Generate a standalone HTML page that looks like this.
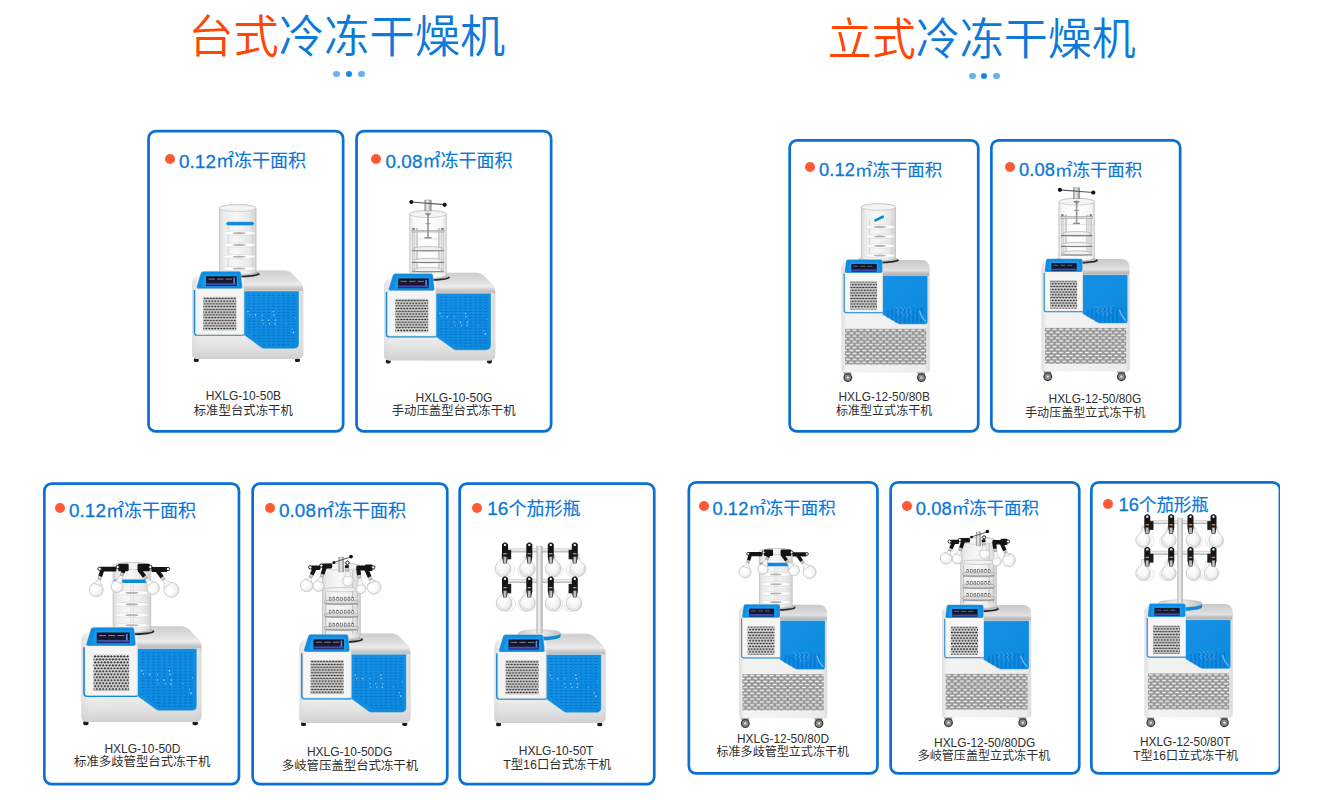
<!DOCTYPE html>
<html lang="zh-CN">
<head>
<meta charset="utf-8">
<title>冷冻干燥机</title>
<style>
*{margin:0;padding:0;box-sizing:border-box}
html,body{width:1324px;height:800px;background:#fff;overflow:hidden}
body{font-family:"Liberation Sans","Noto Sans CJK SC",sans-serif;color:#2e2e2e}
.page{position:relative;width:1280px;height:800px;overflow:hidden;background:#fff}
.title{position:absolute;white-space:nowrap;font-weight:350;color:#0b7ad8}
.title b{font-weight:350;color:#ff4605}
.dots{position:absolute;height:8px}
.dots i{position:absolute;top:0;width:6.8px;height:6.8px;border-radius:50%;background:#66b2f3}
.dots i.m{background:#1a86e6}
.card{position:absolute;border-radius:8.5px}
.dot{position:absolute;width:10px;height:10px;border-radius:50%;background:#ff5a36}
h1,h3,p{font-weight:400;margin:0}
.label{position:absolute;white-space:nowrap;color:#0b78d8;font-weight:400;-webkit-text-stroke:.18px #0b78d8}
.label .n{position:relative;top:.3px;letter-spacing:.1px;-webkit-text-stroke:.3px #0b78d8}
.model,.name{position:absolute;white-space:nowrap;color:#2e2e2e}
svg.art{position:absolute;left:0;top:0;width:1280px;height:800px;overflow:visible}
</style>
</head>
<body>
<div class="page">

<h1 class="title" style="left:188.2px;top:7.7px;font-size:45.3px;line-height:60px;"><b>台式</b>冷冻干燥机</h1>
<div class="dots" style="left:333.2px;top:70.6px"><i style="left:0"></i><i class="m" style="left:12.4px"></i><i style="left:25.2px"></i></div>
<h1 class="title" style="left:827.7px;top:10.35px;font-size:44px;line-height:60px;"><b>立式</b>冷冻干燥机</h1>
<div class="dots" style="left:968.8px;top:72.6px"><i style="left:0"></i><i class="m" style="left:11.8px"></i><i style="left:24.6px"></i></div>
<svg class="art" viewBox="0 0 1280 800">

<defs>
<linearGradient id="gGlass" x1="0" x2="1" y1="0" y2="0"><stop offset="0" stop-color="#d9d9d9"/><stop offset=".12" stop-color="#ececec"/><stop offset=".45" stop-color="#f7f7f7"/><stop offset=".8" stop-color="#e9e9e9"/><stop offset="1" stop-color="#d4d4d4"/></linearGradient>
<linearGradient id="gGlass2" x1="0" x2="1" y1="0" y2="0"><stop offset="0" stop-color="#e4e4e4"/><stop offset=".1" stop-color="#f8f8f8"/><stop offset=".5" stop-color="#ffffff"/><stop offset=".9" stop-color="#f6f6f6"/><stop offset="1" stop-color="#e0e0e0"/></linearGradient>
<linearGradient id="gMetal" x1="0" x2="1" y1="0" y2="0"><stop offset="0" stop-color="#8f8f8f"/><stop offset=".4" stop-color="#f2f2f2"/><stop offset="1" stop-color="#8a8a8a"/></linearGradient>
<linearGradient id="gPost" x1="0" x2="1" y1="0" y2="0"><stop offset="0" stop-color="#b9b9b9"/><stop offset=".45" stop-color="#f4f4f4"/><stop offset="1" stop-color="#a9a9a9"/></linearGradient>
<linearGradient id="gArm" x1="0" x2="0" y1="0" y2="1"><stop offset="0" stop-color="#d9d9d9"/><stop offset=".4" stop-color="#f2f2f2"/><stop offset="1" stop-color="#a9a9a9"/></linearGradient>
<linearGradient id="gPlate" x1="0" x2="1" y1="0" y2="0"><stop offset="0" stop-color="#c9c9c9"/><stop offset=".5" stop-color="#f3f3f3"/><stop offset="1" stop-color="#bdbdbd"/></linearGradient>
<radialGradient id="gFlask" cx=".42" cy=".45" r=".65"><stop offset="0" stop-color="#ffffff"/><stop offset=".65" stop-color="#f4f4f4"/><stop offset="1" stop-color="#d3d3d3"/></radialGradient>
<linearGradient id="gBody" x1="0" x2="1" y1="0" y2="0"><stop offset="0" stop-color="#dedede"/><stop offset=".06" stop-color="#f3f3f3"/><stop offset=".5" stop-color="#f1f1f1"/><stop offset=".95" stop-color="#ebebeb"/><stop offset="1" stop-color="#d8d8d8"/></linearGradient>
<linearGradient id="gBodyLow" x1="0" x2="0" y1="0" y2="1"><stop offset="0" stop-color="#e9e9e9" stop-opacity=".3"/><stop offset="1" stop-color="#d0d0d0" stop-opacity="1"/></linearGradient>
<linearGradient id="gTop" x1="0" x2="0" y1="0" y2="1"><stop offset="0" stop-color="#cecece"/><stop offset=".4" stop-color="#dcdcdc"/><stop offset=".68" stop-color="#ececec"/><stop offset=".82" stop-color="#cfcfcf"/><stop offset="1" stop-color="#b6b6b6"/></linearGradient>
<linearGradient id="gTopF" x1="0" x2="0" y1="0" y2="1"><stop offset="0" stop-color="#c9c9c9"/><stop offset=".4" stop-color="#d6d6d6"/><stop offset=".66" stop-color="#e2e2e2"/><stop offset=".8" stop-color="#c6c6c6"/><stop offset="1" stop-color="#adadad"/></linearGradient>
<linearGradient id="gBlue" x1="0" x2="1" y1="0" y2="1"><stop offset="0" stop-color="#1592e5"/><stop offset="1" stop-color="#0c8adc"/></linearGradient>
<linearGradient id="gScreen" x1="0" x2="0" y1="0" y2="1"><stop offset="0" stop-color="#0e0e1c"/><stop offset=".7" stop-color="#1a1a34"/><stop offset=".78" stop-color="#4b56c9"/><stop offset="1" stop-color="#2c3490"/></linearGradient>
<pattern id="pVent" width="3" height="5.5" patternUnits="userSpaceOnUse" x="11.3" y="26.5"><rect width="3" height="5.5" fill="#f7f7f7"/><path id="hx" d="M.25,1.4 L.85,.45 H2.15 L2.75,1.4 L2.15,2.35 H.85 Z" fill="#262626"/><use href="#hx" x="1.5" y="2.75"/><use href="#hx" x="-1.5" y="2.75"/></pattern>
<pattern id="pSlots" width="4.95" height="2.9" patternUnits="userSpaceOnUse"><rect x=".85" y=".9" width="3.25" height="1.1" rx=".35" fill="#0468cd" opacity=".8"/></pattern>
<pattern id="pMesh" width="6.5" height="5.8" patternUnits="userSpaceOnUse" x="3.6" y="69.2"><rect width="6.5" height="5.8" fill="#939393"/><rect x="1" y=".7" width="4.1" height="1.5" rx=".6" fill="#f6f6f6"/><rect x="4.25" y="3.6" width="4.1" height="1.5" rx=".6" fill="#f6f6f6"/><rect x="-2.25" y="3.6" width="4.1" height="1.5" rx=".6" fill="#f6f6f6"/></pattern>

<!-- bench-top body: 111.3 x 88.5 (+feet) -->
<g id="benchBody">
<rect x="1.8" y="87.6" width="4.9" height="4" rx="1.5" fill="#1c1c1c"/><rect x="103" y="87.6" width="4.9" height="4" rx="1.5" fill="#1c1c1c"/>
<path d="M0,14 Q0,6 8,5 L52,2 L52,0 L92,0 Q97,0 100.5,3.5 L108.5,12 Q111.3,15.5 111.3,21 L111.3,82 Q111.3,88.5 105,88.5 L6,88.5 Q0,88.5 0,82 Z" fill="url(#gBody)"/>
<rect x="0" y="60" width="111.3" height="28.5" rx="5" fill="url(#gBodyLow)"/>
<path d="M51.8,0 L92,0 Q97,0 100.5,3.5 L108.5,12 Q111.3,15.5 111.3,20.6 L51.8,20.6 Z" fill="url(#gTop)"/>
<path d="M51.8,20.4 H110" stroke="#f3dcc9" stroke-width=".7"/>
<path d="M51.8,20.6 L107,20.6 L107,73 Q107,78.2 102,78.2 L71.5,78.2 L69.6,77.4 L51.8,64.6 Z" fill="url(#gBlue)" stroke="#e9e2da" stroke-width=".4"/>
<path d="M54.6,23 H104.5 V71 Q104.5,75.5 100,75.5 H72.5 L54.6,62.6 Z" fill="url(#pSlots)"/>
<g fill="#fff" opacity=".6"><circle cx="56" cy="41.2" r=".8"/><circle cx="57.5" cy="44.5" r=".7"/><circle cx="63.3" cy="44.6" r=".8"/><circle cx="70.5" cy="44.7" r=".6"/><circle cx="81.5" cy="41.2" r=".8"/><circle cx="82" cy="44.5" r=".8"/><circle cx="70.7" cy="49.8" r=".7"/><circle cx="76.5" cy="49.8" r=".8"/><circle cx="83.3" cy="49.8" r=".8"/><circle cx="71.3" cy="53.3" r=".6"/><circle cx="77.5" cy="53.3" r=".7"/><circle cx="83" cy="53.3" r=".8"/><circle cx="101.5" cy="62" r=".9"/><circle cx="100.2" cy="58.6" r=".6"/><circle cx="94" cy="53" r=".5"/><circle cx="103" cy="47.5" r=".5"/></g>
</g>
<g id="benchPanel">
<path d="M2.5,19.5 V62 Q2.5,64.6 5,64.6 H51.8" fill="none" stroke="#0d8add" stroke-width="1.5"/>
<rect x="3.8" y="17" width="48" height="46.9" rx="1.2" fill="#f5f5f5" stroke="#f1d8c5" stroke-width=".6"/>
<rect x="11.3" y="26.3" width="33" height="33.7" fill="url(#pVent)"/>
<path d="M11.5,.8 H47 Q48.8,.8 49,2.6 L50.4,16.2 Q50.6,18.2 48.6,18.2 H6.4 Q4.2,18.2 4.6,16.2 L8.8,2.6 Q9.4,.8 11.5,.8 Z" fill="#0d8de1" stroke="#f3dcc9" stroke-width=".4"/>
<path d="M12.6,3.6 H45.6 L46.7,16 H9.2 Z" fill="#1c9df0" opacity=".75"/>
<rect x="14.6" y="6.1" width="29.8" height="9.2" fill="url(#gScreen)" stroke="#0a0a18" stroke-width=".5"/>
<path d="M16.5,8.6 h6.5 M25,8.6 h6.5 M33.5,8.6 h6.5" stroke="#d8d8e8" stroke-width=".7" opacity=".8"/>
<rect x="41.3" y="7" width="1.6" height="6" fill="#5aa0f0" opacity=".9"/>
</g>

<!-- floor body: 88.3 x 112.8 (+casters) -->
<g id="floorBody">
<g id="caster"><path d="M2.2,112.5 h7.4 v2.2 l-1.4,1.6 h-4.2 Z" fill="#9a9a9a" stroke="#555" stroke-width=".4"/><circle cx="6.4" cy="118" r="3.8" fill="#8e8e8e" stroke="#3a3a3a" stroke-width="1.3"/><circle cx="6.4" cy="118" r="1.7" fill="#dadada" stroke="#555" stroke-width=".5"/></g>
<use href="#caster" x="73.6"/>
<path d="M0,8 Q0,3.5 5,3 L41,1.5 V.4 H80 Q88.3,.4 88.3,9 L88.3,110 Q88.3,112.8 85.5,112.8 H2.8 Q0,112.8 0,110 Z" fill="url(#gBody)"/>
<path d="M41.1,.4 H80 Q87.6,.4 87.8,9 V16 H41.1 Z" fill="url(#gTopF)"/>
<path d="M41.1,15.8 H87" stroke="#f3dcc9" stroke-width=".6"/>
<path d="M41.1,16 H86.2 V62 Q86.2,64.6 83.7,64.6 H58 L56.6,64.1 L41.1,55 Z" fill="url(#gBlue)" stroke="#e9e2da" stroke-width=".3"/>
<g fill="#0768cc" opacity=".55"><rect x="45.6" y="51" width="1.8" height="7"/><rect x="49.7" y="50" width="1.8" height="10.5"/><rect x="53.9" y="49" width="1.8" height="14"/><rect x="58.1" y="48.5" width="1.8" height="15.2"/><rect x="62.3" y="48.5" width="1.8" height="15.2"/><rect x="66.5" y="48.5" width="1.8" height="15.2"/><rect x="70.7" y="48.5" width="1.8" height="15.2"/><rect x="74.9" y="48.5" width="1.8" height="15.2"/><rect x="79.1" y="48.5" width="1.8" height="15.2"/></g>
<g stroke="#6fbdf3" stroke-width=".9" opacity=".9" stroke-dasharray="1.1 .9" fill="none"><path d="M54.2,47.6 l3.5,2.6 l-2.6,2.4 l3.4,2.6 M58.6,47.6 l3.5,2.6 l-2.6,2.4 l3.4,2.6 l-2,2 M63,47.6 l3.5,2.6 l-2.6,2.4 l3.4,2.6 l-2,2 M67.4,47.6 l3.5,2.6 l-2.6,2.4 l3.4,2.6"/></g>
<path d="M78,51 L80.6,57.5 L84.4,62" stroke="#7cc3f4" stroke-width="1.3" fill="none" opacity=".9"/>
<rect x="3.6" y="69.2" width="81.2" height="35.8" fill="url(#pMesh)"/>
</g>
<g id="floorPanel">
<path d="M2.9,14 V51 Q2.9,53 4.9,53 H41.1" fill="none" stroke="#0d8add" stroke-width="1.3"/>
<rect x="3.6" y="12.5" width="37.5" height="39.8" rx="1" fill="#f6f6f6" stroke="#f1d8c5" stroke-width=".5"/>
<rect x="8.7" y="21.9" width="26.9" height="28" fill="url(#pVent)"/>
<path d="M6.4,0 H39.4 Q41.1,0 41.1,1.7 V11.6 Q41.1,13.3 39.4,13.3 H4.6 Q3,13.3 3.3,11.6 L4.6,1.7 Q4.9,0 6.4,0 Z" fill="#0d8de1" stroke="#f3dcc9" stroke-width=".3"/>
<path d="M8.2,2.4 H37.6 L38.4,11.6 H6.6 Z" fill="#1c9df0" opacity=".7"/>
<rect x="10.4" y="4.6" width="24.6" height="7.2" fill="url(#gScreen)" stroke="#0a0a18" stroke-width=".4"/>
<path d="M12,6.6 h5 M19,6.6 h5 M26,6.6 h5" stroke="#d8d8e8" stroke-width=".6" opacity=".7"/>
</g>
</defs>

<rect x="148.55" y="131.15" width="194.6" height="300.3" rx="7.25" fill="none" stroke="#0a70d1" stroke-width="2.7"/>
<rect x="356.55" y="131.15" width="194.6" height="300.3" rx="7.25" fill="none" stroke="#0a70d1" stroke-width="2.7"/>
<rect x="44.35" y="483.65" width="194.6" height="300.5" rx="7.25" fill="none" stroke="#0a70d1" stroke-width="2.7"/>
<rect x="252.65" y="483.65" width="194.6" height="300.5" rx="7.25" fill="none" stroke="#0a70d1" stroke-width="2.7"/>
<rect x="459.65" y="483.65" width="194.6" height="300.5" rx="7.25" fill="none" stroke="#0a70d1" stroke-width="2.7"/>
<rect x="789.65" y="140.35" width="188.6" height="291.1" rx="7.25" fill="none" stroke="#0a70d1" stroke-width="2.7"/>
<rect x="991.35" y="140.35" width="188.8" height="291.1" rx="7.25" fill="none" stroke="#0a70d1" stroke-width="2.7"/>
<rect x="688.85" y="482.35" width="188.6" height="291.1" rx="7.25" fill="none" stroke="#0a70d1" stroke-width="2.7"/>
<rect x="890.65" y="482.35" width="188.6" height="291.1" rx="7.25" fill="none" stroke="#0a70d1" stroke-width="2.7"/>
<rect x="1091.35" y="482.35" width="188.6" height="291.1" rx="7.25" fill="none" stroke="#0a70d1" stroke-width="2.7"/>
<g><g transform="translate(192,270.5) scale(1,1)"><use href="#benchBody"/></g><ellipse cx="237.7" cy="274" rx="21.96" ry="3.51" fill="#262626"/><ellipse cx="237.7" cy="273.1" rx="20.42" ry="2.64" fill="#bdbdbd"/><path d="M219.4,208.08 L219.4,271.6 A18.3,3.48 0 0 0 256,271.6 L256,208.08 A18.3,3.48 0 0 0 219.4,208.08 Z" fill="url(#gGlass)" stroke="#bcbcbc" stroke-width=".8"/><ellipse cx="237.7" cy="208.08" rx="18.3" ry="3.48" fill="#f4f4f4" stroke="#c2c2c2" stroke-width=".7"/><path d="M228.18,225 V269.6 M252.34,225 V269.6" stroke="#cdcdcd" stroke-width=".8" fill="none"/><ellipse cx="239.16" cy="233.16" rx="16.1" ry="2.3" fill="#fdfdfd" stroke="#d2d2d2" stroke-width=".5"/><ellipse cx="239.16" cy="233.16" rx="6.44" ry="1.1" fill="#b4b4b4"/><ellipse cx="239.16" cy="244.95" rx="16.1" ry="2.3" fill="#fdfdfd" stroke="#d2d2d2" stroke-width=".5"/><ellipse cx="239.16" cy="244.95" rx="6.44" ry="1.1" fill="#b4b4b4"/><ellipse cx="239.16" cy="256.73" rx="16.1" ry="2.3" fill="#fdfdfd" stroke="#d2d2d2" stroke-width=".5"/><ellipse cx="239.16" cy="256.73" rx="6.44" ry="1.1" fill="#b4b4b4"/><ellipse cx="239.16" cy="268.52" rx="16.1" ry="2.3" fill="#fdfdfd" stroke="#d2d2d2" stroke-width=".5"/><ellipse cx="239.16" cy="268.52" rx="6.44" ry="1.1" fill="#b4b4b4"/><rect x="226.1" y="221.67" width="28.11" height="3.9" rx="1.95" fill="#0d8add" stroke="#f6e6d8" stroke-width=".4"/><g transform="translate(192,270.5) scale(1,1)"><use href="#benchPanel"/></g></g>
<g><g transform="translate(384,272.8) scale(1,0.99)"><use href="#benchBody"/></g><ellipse cx="428" cy="277.6" rx="21.9" ry="3.5" fill="#262626"/><ellipse cx="428" cy="276.7" rx="20.37" ry="2.63" fill="#bdbdbd"/><path d="M409.75,214.07 L409.75,275 A18.25,3.47 0 0 0 446.25,275 L446.25,214.07 A18.25,3.47 0 0 0 409.75,214.07 Z" fill="url(#gGlass2)" stroke="#bcbcbc" stroke-width=".8"/><ellipse cx="428" cy="214.07" rx="18.25" ry="3.47" fill="#f4f4f4" stroke="#c2c2c2" stroke-width=".7"/><rect x="412.65" y="228.72" width="1.5" height="41.78" fill="#e4e4e4" stroke="#a6a6a6" stroke-width=".45"/><rect x="416.05" y="228.72" width="1.5" height="41.78" fill="#e4e4e4" stroke="#a6a6a6" stroke-width=".45"/><rect x="438.45" y="228.72" width="1.5" height="41.78" fill="#e4e4e4" stroke="#a6a6a6" stroke-width=".45"/><rect x="441.85" y="228.72" width="1.5" height="41.78" fill="#e4e4e4" stroke="#a6a6a6" stroke-width=".45"/><rect x="411.8" y="230.22" width="32.4" height="1.8" fill="#d9d9d9" stroke="#8f8f8f" stroke-width=".5"/><rect x="412.4" y="227.82" width="2" height="2" fill="#777"/><rect x="441.6" y="227.82" width="2" height="2" fill="#777"/><path d="M409.75,238.72 H446.25" stroke="#c8c8c8" stroke-width=".5"/><ellipse cx="428" cy="248.86" rx="14.96" ry="2.3" fill="#f0f0f0" stroke="#a2a2a2" stroke-width=".6"/><path d="M411.8,250.76 H444.2" stroke="#7d7d7d" stroke-width="1.1"/><ellipse cx="428" cy="260.63" rx="14.96" ry="2.3" fill="#f0f0f0" stroke="#a2a2a2" stroke-width=".6"/><path d="M411.8,262.53 H444.2" stroke="#7d7d7d" stroke-width="1.1"/><ellipse cx="428" cy="269.79" rx="14.96" ry="2.3" fill="#f0f0f0" stroke="#a2a2a2" stroke-width=".6"/><path d="M411.8,271.69 H444.2" stroke="#7d7d7d" stroke-width="1.1"/><path d="M428,212.6 V237.41" stroke="#9a9a9a" stroke-width="1.7"/><path d="M424.5,213.2 h7 l-2.2,2.4 h-2.6 Z" fill="#8e8e8e"/><path d="M424.5,237.74 h7" stroke="#8a8a8a" stroke-width="1.4"/><path d="M425.5,223.68 h5" stroke="#9a9a9a" stroke-width="1"/><rect x="424.8" y="200" width="6.4" height="11" fill="url(#gMetal)" stroke="#8a8a8a" stroke-width=".5"/><path d="M411.5,202 L444.5,204.7" stroke="#5a5a5a" stroke-width="1.2"/><circle cx="411.3" cy="202" r="2.1" fill="#111"/><circle cx="444.7" cy="204.8" r="2.1" fill="#111"/><g transform="translate(384,272.8) scale(1,0.99)"><use href="#benchPanel"/></g></g>
<g><g transform="translate(81.3,626.3) scale(1.08,1.08)"><use href="#benchBody"/></g><ellipse cx="131.9" cy="631.6" rx="22.5" ry="3.6" fill="#262626"/><ellipse cx="131.9" cy="630.7" rx="20.93" ry="2.7" fill="#bdbdbd"/><path d="M113.15,566.06 L113.15,629 A18.75,3.56 0 0 0 150.65,629 L150.65,566.06 A18.75,3.56 0 0 0 113.15,566.06 Z" fill="url(#gGlass)" stroke="#bcbcbc" stroke-width=".8"/><ellipse cx="131.9" cy="566.06" rx="18.75" ry="3.56" fill="#f4f4f4" stroke="#c2c2c2" stroke-width=".7"/><rect x="130.4" y="581.4" width="3" height="47.25" fill="#efefef" stroke="#d2d2d2" stroke-width=".4"/><ellipse cx="131.9" cy="592.88" rx="16.5" ry="2.3" fill="#fdfdfd" stroke="#d2d2d2" stroke-width=".5"/><ellipse cx="131.9" cy="592.88" rx="6.6" ry="1.1" fill="#b4b4b4"/><ellipse cx="131.9" cy="604.35" rx="16.5" ry="2.3" fill="#fdfdfd" stroke="#d2d2d2" stroke-width=".5"/><ellipse cx="131.9" cy="604.35" rx="6.6" ry="1.1" fill="#b4b4b4"/><ellipse cx="131.9" cy="615.15" rx="16.5" ry="2.3" fill="#fdfdfd" stroke="#d2d2d2" stroke-width=".5"/><ellipse cx="131.9" cy="615.15" rx="6.6" ry="1.1" fill="#b4b4b4"/><ellipse cx="131.9" cy="625.27" rx="16.5" ry="2.3" fill="#fdfdfd" stroke="#d2d2d2" stroke-width=".5"/><ellipse cx="131.9" cy="625.27" rx="6.6" ry="1.1" fill="#b4b4b4"/><rect x="113.9" y="579.38" width="34.5" height="3.5" rx="1.2" fill="#0d8add"/><g transform="translate(123.9,569.5) rotate(22)"><circle cx="0" cy="18.4" r="6" fill="url(#gFlask)" stroke="#c4c4c4" stroke-width=".7"/><path d="M-1.5,6.5 V8 Q-1.5,9.5 -3.72,13.9 L3.72,13.9 Q1.5,9.5 1.5,8 V6.5 Z" fill="#f7f7f7" stroke="#c4c4c4" stroke-width=".6"/><ellipse cx="-1.5" cy="17.8" rx="2.7" ry="3.3" fill="#fff" opacity=".9"/><rect x="-1.5" y="3.2" width="3" height="3.3" fill="#cfcfcf" stroke="#6e6e6e" stroke-width=".4"/><rect x="-2" y="-1" width="4" height="4.5" rx=".6" fill="#141414"/></g><rect x="118.2" y="563.8" width="10.5" height="7.4" rx="1.1" fill="#141414"/><circle cx="117.6" cy="567.1" r="1.7" fill="#f5f5f5" stroke="#141414" stroke-width="0.9"/><g transform="translate(139.9,570.5) rotate(-37)"><circle cx="0" cy="22" r="6.3" fill="url(#gFlask)" stroke="#c4c4c4" stroke-width=".7"/><path d="M-1.5,10.5 V12 Q-1.5,13.5 -3.91,17.27 L3.91,17.27 Q1.5,13.5 1.5,12 V10.5 Z" fill="#f7f7f7" stroke="#c4c4c4" stroke-width=".6"/><ellipse cx="-1.57" cy="21.37" rx="2.83" ry="3.47" fill="#fff" opacity=".9"/><rect x="-1.5" y="7.2" width="3" height="3.3" fill="#cfcfcf" stroke="#6e6e6e" stroke-width=".4"/><rect x="-2" y="-1" width="4" height="8.5" rx=".6" fill="#141414"/></g><rect x="137.5" y="563.8" width="12.3" height="7.4" rx="1.1" fill="#141414"/><circle cx="150.4" cy="567.1" r="1.7" fill="#f5f5f5" stroke="#141414" stroke-width="0.9"/><g transform="translate(101.9,571) rotate(17)"><circle cx="0" cy="19.6" r="7" fill="url(#gFlask)" stroke="#c4c4c4" stroke-width=".7"/><path d="M-1.5,8.5 V10 Q-1.5,11.5 -4.34,14.35 L4.34,14.35 Q1.5,11.5 1.5,10 V8.5 Z" fill="#f7f7f7" stroke="#c4c4c4" stroke-width=".6"/><ellipse cx="-1.75" cy="18.9" rx="3.15" ry="3.85" fill="#fff" opacity=".9"/><rect x="-1.5" y="5.2" width="3" height="3.3" fill="#cfcfcf" stroke="#6e6e6e" stroke-width=".4"/><rect x="-2" y="-1" width="4" height="6.5" rx=".6" fill="#141414"/></g><rect x="100.3" y="566.8" width="16" height="4.8" rx="1.1" fill="#141414"/><circle cx="99.7" cy="568.8" r="1.7" fill="#f5f5f5" stroke="#141414" stroke-width="0.9"/><g transform="translate(157.9,571.5) rotate(-36)"><circle cx="0" cy="22.8" r="7.5" fill="url(#gFlask)" stroke="#c4c4c4" stroke-width=".7"/><path d="M-1.5,10 V11.5 Q-1.5,13 -4.65,17.18 L4.65,17.18 Q1.5,13 1.5,11.5 V10 Z" fill="#f7f7f7" stroke="#c4c4c4" stroke-width=".6"/><ellipse cx="-1.88" cy="22.05" rx="3.38" ry="4.12" fill="#fff" opacity=".9"/><rect x="-1.5" y="6.7" width="3" height="3.3" fill="#cfcfcf" stroke="#6e6e6e" stroke-width=".4"/><rect x="-2" y="-1" width="4" height="8" rx=".6" fill="#141414"/></g><rect x="151.3" y="566.9" width="16.2" height="5" rx="1.1" fill="#141414"/><circle cx="168.1" cy="569" r="1.7" fill="#f5f5f5" stroke="#141414" stroke-width="0.9"/><g transform="translate(81.3,626.3) scale(1.08,1.08)"><use href="#benchPanel"/></g></g>
<g><g transform="translate(299.3,633.5) scale(1,1.01)"><use href="#benchBody"/></g><ellipse cx="340.4" cy="639.6" rx="22.68" ry="3.63" fill="#262626"/><ellipse cx="340.4" cy="638.7" rx="21.09" ry="2.72" fill="#bdbdbd"/><path d="M322.5,566.59 L322.5,636 A18.9,3.59 0 0 0 360.3,636 L360.3,566.59 A18.9,3.59 0 0 0 322.5,566.59 Z" fill="url(#gGlass)" stroke="#bcbcbc" stroke-width=".8"/><ellipse cx="341.4" cy="566.59" rx="18.9" ry="3.59" fill="#f4f4f4" stroke="#c2c2c2" stroke-width=".7"/><path d="M325.52,592.6 V634 M357.28,592.6 V634 M352.74,570.4 V634" stroke="#bcbcbc" stroke-width=".9" fill="none"/><ellipse cx="341.4" cy="601.98" rx="17.39" ry="2.8" fill="#d9d9d9" stroke="#9a9a9a" stroke-width=".6"/><path d="M324.77,603.98 H358.03" stroke="#8c8c8c" stroke-width="1"/><rect x="329.21" y="597.18" width="1.7" height="3.2" fill="#fff" stroke="#444" stroke-width=".5"/><rect x="332.99" y="597.18" width="1.7" height="3.2" fill="#fff" stroke="#444" stroke-width=".5"/><rect x="336.77" y="597.18" width="1.7" height="3.2" fill="#fff" stroke="#444" stroke-width=".5"/><rect x="340.55" y="597.18" width="1.7" height="3.2" fill="#fff" stroke="#444" stroke-width=".5"/><rect x="344.33" y="597.18" width="1.7" height="3.2" fill="#fff" stroke="#444" stroke-width=".5"/><rect x="348.11" y="597.18" width="1.7" height="3.2" fill="#fff" stroke="#444" stroke-width=".5"/><rect x="351.89" y="597.18" width="1.7" height="3.2" fill="#fff" stroke="#444" stroke-width=".5"/><ellipse cx="341.4" cy="614.93" rx="17.39" ry="2.8" fill="#d9d9d9" stroke="#9a9a9a" stroke-width=".6"/><path d="M324.77,616.93 H358.03" stroke="#8c8c8c" stroke-width="1"/><rect x="329.21" y="610.13" width="1.7" height="3.2" fill="#fff" stroke="#444" stroke-width=".5"/><rect x="332.99" y="610.13" width="1.7" height="3.2" fill="#fff" stroke="#444" stroke-width=".5"/><rect x="336.77" y="610.13" width="1.7" height="3.2" fill="#fff" stroke="#444" stroke-width=".5"/><rect x="340.55" y="610.13" width="1.7" height="3.2" fill="#fff" stroke="#444" stroke-width=".5"/><rect x="344.33" y="610.13" width="1.7" height="3.2" fill="#fff" stroke="#444" stroke-width=".5"/><rect x="348.11" y="610.13" width="1.7" height="3.2" fill="#fff" stroke="#444" stroke-width=".5"/><rect x="351.89" y="610.13" width="1.7" height="3.2" fill="#fff" stroke="#444" stroke-width=".5"/><ellipse cx="341.4" cy="627.88" rx="17.39" ry="2.8" fill="#d9d9d9" stroke="#9a9a9a" stroke-width=".6"/><path d="M324.77,629.88 H358.03" stroke="#8c8c8c" stroke-width="1"/><rect x="329.21" y="623.08" width="1.7" height="3.2" fill="#fff" stroke="#444" stroke-width=".5"/><rect x="332.99" y="623.08" width="1.7" height="3.2" fill="#fff" stroke="#444" stroke-width=".5"/><rect x="336.77" y="623.08" width="1.7" height="3.2" fill="#fff" stroke="#444" stroke-width=".5"/><rect x="340.55" y="623.08" width="1.7" height="3.2" fill="#fff" stroke="#444" stroke-width=".5"/><rect x="344.33" y="623.08" width="1.7" height="3.2" fill="#fff" stroke="#444" stroke-width=".5"/><rect x="348.11" y="623.08" width="1.7" height="3.2" fill="#fff" stroke="#444" stroke-width=".5"/><rect x="351.89" y="623.08" width="1.7" height="3.2" fill="#fff" stroke="#444" stroke-width=".5"/><ellipse cx="341.4" cy="589.64" rx="17.77" ry="2.2" fill="#f1f1f1" stroke="#b5b5b5" stroke-width=".6"/><g transform="translate(346.8,566) rotate(-5)"><circle cx="0" cy="14.8" r="5.5" fill="url(#gFlask)" stroke="#c4c4c4" stroke-width=".7"/><path d="M-1.5,5 V6.5 Q-1.5,8 -3.41,10.68 L3.41,10.68 Q1.5,8 1.5,6.5 V5 Z" fill="#f7f7f7" stroke="#c4c4c4" stroke-width=".6"/><ellipse cx="-1.38" cy="14.25" rx="2.48" ry="3.03" fill="#fff" opacity=".9"/><rect x="-1.5" y="1.7" width="3" height="3.3" fill="#cfcfcf" stroke="#6e6e6e" stroke-width=".4"/><rect x="-2" y="-1" width="4" height="3" rx=".6" fill="#141414"/></g><rect x="338.8" y="557" width="5" height="15" fill="url(#gMetal)" stroke="#9a9a9a" stroke-width=".4"/><path d="M333.4,562.5 L350.9,557" stroke="#555" stroke-width="1"/><circle cx="351" cy="556.6" r="1.9" fill="#111"/><circle cx="333.9" cy="562.5" r="1.5" fill="#111"/><circle cx="347.4" cy="562.8" r="1.7" fill="#f5f5f5" stroke="#141414" stroke-width=".9"/><g transform="translate(324.6,568) rotate(19)"><circle cx="0" cy="18.9" r="5.6" fill="url(#gFlask)" stroke="#c4c4c4" stroke-width=".7"/><path d="M-1.5,9.5 V11 Q-1.5,12.5 -3.47,14.7 L3.47,14.7 Q1.5,12.5 1.5,11 V9.5 Z" fill="#f7f7f7" stroke="#c4c4c4" stroke-width=".6"/><ellipse cx="-1.4" cy="18.34" rx="2.52" ry="3.08" fill="#fff" opacity=".9"/><rect x="-1.5" y="6.2" width="3" height="3.3" fill="#cfcfcf" stroke="#6e6e6e" stroke-width=".4"/><rect x="-2" y="-1" width="4" height="7.5" rx=".6" fill="#141414"/></g><rect x="321.9" y="563.55" width="10.3" height="4.9" rx="1.1" fill="#141414"/><circle cx="321.3" cy="565.6" r="1.7" fill="#f5f5f5" stroke="#141414" stroke-width="0.9"/><g transform="translate(314.3,569.3) rotate(25.5)"><circle cx="0" cy="17.8" r="6.3" fill="url(#gFlask)" stroke="#c4c4c4" stroke-width=".7"/><path d="M-1.5,9 V10.5 Q-1.5,12 -3.91,13.08 L3.91,13.08 Q1.5,12 1.5,10.5 V9 Z" fill="#f7f7f7" stroke="#c4c4c4" stroke-width=".6"/><ellipse cx="-1.57" cy="17.17" rx="2.83" ry="3.47" fill="#fff" opacity=".9"/><rect x="-1.5" y="5.7" width="3" height="3.3" fill="#cfcfcf" stroke="#6e6e6e" stroke-width=".4"/><rect x="-2" y="-1" width="4" height="7" rx=".6" fill="#141414"/></g><rect x="310.9" y="565.5" width="9.6" height="4.4" rx="1.1" fill="#141414"/><circle cx="310.3" cy="567.3" r="1.7" fill="#f5f5f5" stroke="#141414" stroke-width="0.9"/><g transform="translate(358.4,570) rotate(-8)"><circle cx="0" cy="19" r="4.8" fill="url(#gFlask)" stroke="#c4c4c4" stroke-width=".7"/><path d="M-1.5,8 V9.5 Q-1.5,11 -2.98,15.4 L2.98,15.4 Q1.5,11 1.5,9.5 V8 Z" fill="#f7f7f7" stroke="#c4c4c4" stroke-width=".6"/><ellipse cx="-1.2" cy="18.52" rx="2.16" ry="2.64" fill="#fff" opacity=".9"/><rect x="-1.5" y="4.7" width="3" height="3.3" fill="#cfcfcf" stroke="#6e6e6e" stroke-width=".4"/><rect x="-2" y="-1" width="4" height="6" rx=".6" fill="#141414"/></g><g transform="translate(366.6,570) rotate(-23.5)"><circle cx="0" cy="18.8" r="6.9" fill="url(#gFlask)" stroke="#c4c4c4" stroke-width=".7"/><path d="M-1.5,10.5 V12 Q-1.5,13.5 -4.28,13.62 L4.28,13.62 Q1.5,13.5 1.5,12 V10.5 Z" fill="#f7f7f7" stroke="#c4c4c4" stroke-width=".6"/><ellipse cx="-1.73" cy="18.11" rx="3.11" ry="3.8" fill="#fff" opacity=".9"/><rect x="-1.5" y="7.2" width="3" height="3.3" fill="#cfcfcf" stroke="#6e6e6e" stroke-width=".4"/><rect x="-2" y="-1" width="4" height="8.5" rx=".6" fill="#141414"/></g><rect x="356.3" y="565.6" width="10.3" height="4.8" rx="1.1" fill="#141414"/><circle cx="367.2" cy="567.6" r="1.7" fill="#f5f5f5" stroke="#141414" stroke-width="0.9"/><rect x="365.2" y="564.4" width="7.4" height="6.6" rx="1.1" fill="#141414"/><circle cx="373.2" cy="567.3" r="1.7" fill="#f5f5f5" stroke="#141414" stroke-width="0.9"/><g transform="translate(299.3,633.5) scale(1,1.01)"><use href="#benchPanel"/></g></g>
<g><g transform="translate(494.3,633.7) scale(1,1.01)"><use href="#benchBody"/></g><ellipse cx="539.5" cy="636.4" rx="21" ry="4.2" fill="#0d8add"/><rect x="518.5" y="633.2" width="42" height="3.4" fill="#0d8add"/><ellipse cx="539.5" cy="633.2" rx="21" ry="3.57" fill="url(#gPlate)" stroke="#b8b8b8" stroke-width=".5"/><g transform="translate(507.3,569.8)"><path d="M-1.3,-13.85 L-1.3,-10.94 Q-1.3,-7.65 -5.83,-4.37 A7.29,7.29 0 1 0 5.83,-4.37 Q1.3,-7.65 1.3,-10.94 L1.3,-13.85 Z" fill="#fafafa" stroke="#dadada" stroke-width="0.6"/><path d="M-5.25,0.73 A5.47,5.47 0 0 0 0.73,5.39" fill="none" stroke="#d2d2d2" stroke-width=".6"/></g><g transform="translate(525,569.8)"><path d="M-1.3,-13.85 L-1.3,-10.94 Q-1.3,-7.65 -5.83,-4.37 A7.29,7.29 0 1 0 5.83,-4.37 Q1.3,-7.65 1.3,-10.94 L1.3,-13.85 Z" fill="#fafafa" stroke="#dadada" stroke-width="0.6"/><path d="M-5.25,0.73 A5.47,5.47 0 0 0 0.73,5.39" fill="none" stroke="#d2d2d2" stroke-width=".6"/></g><g transform="translate(555.5,569.8)"><path d="M-1.3,-13.85 L-1.3,-10.94 Q-1.3,-7.65 -5.83,-4.37 A7.29,7.29 0 1 0 5.83,-4.37 Q1.3,-7.65 1.3,-10.94 L1.3,-13.85 Z" fill="#fafafa" stroke="#dadada" stroke-width="0.6"/><path d="M-5.25,0.73 A5.47,5.47 0 0 0 0.73,5.39" fill="none" stroke="#d2d2d2" stroke-width=".6"/></g><g transform="translate(573.3,569.8)"><path d="M-1.3,-13.85 L-1.3,-10.94 Q-1.3,-7.65 -5.83,-4.37 A7.29,7.29 0 1 0 5.83,-4.37 Q1.3,-7.65 1.3,-10.94 L1.3,-13.85 Z" fill="#fafafa" stroke="#dadada" stroke-width="0.6"/><path d="M-5.25,0.73 A5.47,5.47 0 0 0 0.73,5.39" fill="none" stroke="#d2d2d2" stroke-width=".6"/></g><g transform="translate(508.5,604.2)"><path d="M-1.3,-13.85 L-1.3,-10.94 Q-1.3,-7.65 -5.83,-4.37 A7.29,7.29 0 1 0 5.83,-4.37 Q1.3,-7.65 1.3,-10.94 L1.3,-13.85 Z" fill="#fafafa" stroke="#dadada" stroke-width="0.6"/><path d="M-5.25,0.73 A5.47,5.47 0 0 0 0.73,5.39" fill="none" stroke="#d2d2d2" stroke-width=".6"/></g><g transform="translate(525,604.2)"><path d="M-1.3,-13.85 L-1.3,-10.94 Q-1.3,-7.65 -5.83,-4.37 A7.29,7.29 0 1 0 5.83,-4.37 Q1.3,-7.65 1.3,-10.94 L1.3,-13.85 Z" fill="#fafafa" stroke="#dadada" stroke-width="0.6"/><path d="M-5.25,0.73 A5.47,5.47 0 0 0 0.73,5.39" fill="none" stroke="#d2d2d2" stroke-width=".6"/></g><g transform="translate(555.5,604.2)"><path d="M-1.3,-13.85 L-1.3,-10.94 Q-1.3,-7.65 -5.83,-4.37 A7.29,7.29 0 1 0 5.83,-4.37 Q1.3,-7.65 1.3,-10.94 L1.3,-13.85 Z" fill="#fafafa" stroke="#dadada" stroke-width="0.6"/><path d="M-5.25,0.73 A5.47,5.47 0 0 0 0.73,5.39" fill="none" stroke="#d2d2d2" stroke-width=".6"/></g><g transform="translate(569.5,604.2)"><path d="M-1.3,-13.85 L-1.3,-10.94 Q-1.3,-7.65 -5.83,-4.37 A7.29,7.29 0 1 0 5.83,-4.37 Q1.3,-7.65 1.3,-10.94 L1.3,-13.85 Z" fill="#fafafa" stroke="#dadada" stroke-width="0.6"/><path d="M-5.25,0.73 A5.47,5.47 0 0 0 0.73,5.39" fill="none" stroke="#d2d2d2" stroke-width=".6"/></g><rect x="508" y="548.6" width="66" height="3.6" fill="url(#gArm)" stroke="#b5b5b5" stroke-width=".3"/><rect x="508" y="579.2" width="66" height="3.6" fill="url(#gArm)" stroke="#b5b5b5" stroke-width=".3"/><rect x="536.5" y="546" width="6" height="87.2" fill="url(#gPost)" stroke="#b0b0b0" stroke-width=".3"/><g transform="translate(502.8,568.8)"><path d="M-1.3,-14.77 L-1.3,-11.66 Q-1.3,-8.16 -6.22,-4.67 A7.78,7.78 0 1 0 6.22,-4.67 Q1.3,-8.16 1.3,-11.66 L1.3,-14.77 Z" fill="url(#gFlask)" stroke="#bdbdbd" stroke-width="0.7"/><path d="M-5.6,0.78 A5.83,5.83 0 0 0 0.78,5.75" fill="none" stroke="#d2d2d2" stroke-width=".6"/></g><path d="M502,544.3 l2,-1.8 h2 l2,1.8 v12.6 l-1.2,6.3 h-3.6 l-1.2,-6.3 Z" fill="#161616"/><circle cx="505" cy="544.9" r="1.2" fill="#e8e8e8"/><rect x="503.3" y="553" width="3.4" height="1.4" fill="#d9826a"/><rect x="503.5" y="556.78" width="3" height="6.3" fill="#bdbdbd" stroke="#555" stroke-width=".4"/><rect x="507.6" y="549.85" width="3.6" height="9.45" fill="#1c1c1c"/><g transform="translate(527.5,568.8)"><path d="M-1.3,-14.77 L-1.3,-11.66 Q-1.3,-8.16 -6.22,-4.67 A7.78,7.78 0 1 0 6.22,-4.67 Q1.3,-8.16 1.3,-11.66 L1.3,-14.77 Z" fill="url(#gFlask)" stroke="#bdbdbd" stroke-width="0.7"/><path d="M-5.6,0.78 A5.83,5.83 0 0 0 0.78,5.75" fill="none" stroke="#d2d2d2" stroke-width=".6"/></g><path d="M526.3,544.3 l2,-1.8 h2 l2,1.8 v12.6 l-1.2,6.3 h-3.6 l-1.2,-6.3 Z" fill="#161616"/><circle cx="529.3" cy="544.9" r="1.2" fill="#e8e8e8"/><rect x="527.6" y="553" width="3.4" height="1.4" fill="#d9826a"/><rect x="527.8" y="556.78" width="3" height="6.3" fill="#bdbdbd" stroke="#555" stroke-width=".4"/><g transform="translate(553,568.8)"><path d="M-1.3,-14.77 L-1.3,-11.66 Q-1.3,-8.16 -6.22,-4.67 A7.78,7.78 0 1 0 6.22,-4.67 Q1.3,-8.16 1.3,-11.66 L1.3,-14.77 Z" fill="url(#gFlask)" stroke="#bdbdbd" stroke-width="0.7"/><path d="M-5.6,0.78 A5.83,5.83 0 0 0 0.78,5.75" fill="none" stroke="#d2d2d2" stroke-width=".6"/></g><path d="M547.8,544.3 l2,-1.8 h2 l2,1.8 v12.6 l-1.2,6.3 h-3.6 l-1.2,-6.3 Z" fill="#161616"/><circle cx="550.8" cy="544.9" r="1.2" fill="#e8e8e8"/><rect x="549.1" y="553" width="3.4" height="1.4" fill="#d9826a"/><rect x="549.3" y="556.78" width="3" height="6.3" fill="#bdbdbd" stroke="#555" stroke-width=".4"/><g transform="translate(577.8,568.8)"><path d="M-1.3,-14.77 L-1.3,-11.66 Q-1.3,-8.16 -6.22,-4.67 A7.78,7.78 0 1 0 6.22,-4.67 Q1.3,-8.16 1.3,-11.66 L1.3,-14.77 Z" fill="url(#gFlask)" stroke="#bdbdbd" stroke-width="0.7"/><path d="M-5.6,0.78 A5.83,5.83 0 0 0 0.78,5.75" fill="none" stroke="#d2d2d2" stroke-width=".6"/></g><path d="M571.8,544.3 l2,-1.8 h2 l2,1.8 v12.6 l-1.2,6.3 h-3.6 l-1.2,-6.3 Z" fill="#161616"/><circle cx="574.8" cy="544.9" r="1.2" fill="#e8e8e8"/><rect x="573.1" y="553" width="3.4" height="1.4" fill="#d9826a"/><rect x="573.3" y="556.78" width="3" height="6.3" fill="#bdbdbd" stroke="#555" stroke-width=".4"/><rect x="568.6" y="549.85" width="3.6" height="9.45" fill="#1c1c1c"/><g transform="translate(504,603.2)"><path d="M-1.3,-14.77 L-1.3,-11.66 Q-1.3,-8.16 -6.22,-4.67 A7.78,7.78 0 1 0 6.22,-4.67 Q1.3,-8.16 1.3,-11.66 L1.3,-14.77 Z" fill="url(#gFlask)" stroke="#bdbdbd" stroke-width="0.7"/><path d="M-5.6,0.78 A5.83,5.83 0 0 0 0.78,5.75" fill="none" stroke="#d2d2d2" stroke-width=".6"/></g><path d="M502,578.3 l2,-1.8 h2 l2,1.8 v12.6 l-1.2,6.3 h-3.6 l-1.2,-6.3 Z" fill="#161616"/><circle cx="505" cy="578.9" r="1.2" fill="#e8e8e8"/><rect x="503.3" y="587" width="3.4" height="1.4" fill="#d9826a"/><rect x="503.5" y="590.78" width="3" height="6.3" fill="#bdbdbd" stroke="#555" stroke-width=".4"/><rect x="507.6" y="583.85" width="3.6" height="9.45" fill="#1c1c1c"/><g transform="translate(527.5,603.2)"><path d="M-1.3,-14.77 L-1.3,-11.66 Q-1.3,-8.16 -6.22,-4.67 A7.78,7.78 0 1 0 6.22,-4.67 Q1.3,-8.16 1.3,-11.66 L1.3,-14.77 Z" fill="url(#gFlask)" stroke="#bdbdbd" stroke-width="0.7"/><path d="M-5.6,0.78 A5.83,5.83 0 0 0 0.78,5.75" fill="none" stroke="#d2d2d2" stroke-width=".6"/></g><path d="M526.3,578.3 l2,-1.8 h2 l2,1.8 v12.6 l-1.2,6.3 h-3.6 l-1.2,-6.3 Z" fill="#161616"/><circle cx="529.3" cy="578.9" r="1.2" fill="#e8e8e8"/><rect x="527.6" y="587" width="3.4" height="1.4" fill="#d9826a"/><rect x="527.8" y="590.78" width="3" height="6.3" fill="#bdbdbd" stroke="#555" stroke-width=".4"/><g transform="translate(553,603.2)"><path d="M-1.3,-14.77 L-1.3,-11.66 Q-1.3,-8.16 -6.22,-4.67 A7.78,7.78 0 1 0 6.22,-4.67 Q1.3,-8.16 1.3,-11.66 L1.3,-14.77 Z" fill="url(#gFlask)" stroke="#bdbdbd" stroke-width="0.7"/><path d="M-5.6,0.78 A5.83,5.83 0 0 0 0.78,5.75" fill="none" stroke="#d2d2d2" stroke-width=".6"/></g><path d="M547.8,578.3 l2,-1.8 h2 l2,1.8 v12.6 l-1.2,6.3 h-3.6 l-1.2,-6.3 Z" fill="#161616"/><circle cx="550.8" cy="578.9" r="1.2" fill="#e8e8e8"/><rect x="549.1" y="587" width="3.4" height="1.4" fill="#d9826a"/><rect x="549.3" y="590.78" width="3" height="6.3" fill="#bdbdbd" stroke="#555" stroke-width=".4"/><g transform="translate(574,603.2)"><path d="M-1.3,-14.77 L-1.3,-11.66 Q-1.3,-8.16 -6.22,-4.67 A7.78,7.78 0 1 0 6.22,-4.67 Q1.3,-8.16 1.3,-11.66 L1.3,-14.77 Z" fill="url(#gFlask)" stroke="#bdbdbd" stroke-width="0.7"/><path d="M-5.6,0.78 A5.83,5.83 0 0 0 0.78,5.75" fill="none" stroke="#d2d2d2" stroke-width=".6"/></g><path d="M571.8,578.3 l2,-1.8 h2 l2,1.8 v12.6 l-1.2,6.3 h-3.6 l-1.2,-6.3 Z" fill="#161616"/><circle cx="574.8" cy="578.9" r="1.2" fill="#e8e8e8"/><rect x="573.1" y="587" width="3.4" height="1.4" fill="#d9826a"/><rect x="573.3" y="590.78" width="3" height="6.3" fill="#bdbdbd" stroke="#555" stroke-width=".4"/><rect x="568.6" y="583.85" width="3.6" height="9.45" fill="#1c1c1c"/><g transform="translate(494.3,633.7) scale(1,1.01)"><use href="#benchPanel"/></g></g>
<g><g transform="translate(841.4,259.6) scale(1,1)"><use href="#floorBody"/></g><ellipse cx="878.4" cy="260.2" rx="20.52" ry="3.28" fill="#262626"/><ellipse cx="878.4" cy="259.3" rx="19.08" ry="2.46" fill="#bdbdbd"/><path d="M861.3,207.05 L861.3,257.8 A17.1,3.25 0 0 0 895.5,257.8 L895.5,207.05 A17.1,3.25 0 0 0 861.3,207.05 Z" fill="url(#gGlass)" stroke="#bcbcbc" stroke-width=".8"/><ellipse cx="878.4" cy="207.05" rx="17.1" ry="3.25" fill="#f4f4f4" stroke="#c2c2c2" stroke-width=".7"/><path d="M869.51,220.3 V255.8 M892.08,220.3 V255.8" stroke="#cdcdcd" stroke-width=".8" fill="none"/><ellipse cx="879.77" cy="226.9" rx="15.05" ry="2.3" fill="#fdfdfd" stroke="#d2d2d2" stroke-width=".5"/><ellipse cx="879.77" cy="226.9" rx="6.02" ry="1.1" fill="#b4b4b4"/><ellipse cx="879.77" cy="236.43" rx="15.05" ry="2.3" fill="#fdfdfd" stroke="#d2d2d2" stroke-width=".5"/><ellipse cx="879.77" cy="236.43" rx="6.02" ry="1.1" fill="#b4b4b4"/><ellipse cx="879.77" cy="245.97" rx="15.05" ry="2.3" fill="#fdfdfd" stroke="#d2d2d2" stroke-width=".5"/><ellipse cx="879.77" cy="245.97" rx="6.02" ry="1.1" fill="#b4b4b4"/><ellipse cx="879.77" cy="255.5" rx="15.05" ry="2.3" fill="#fdfdfd" stroke="#d2d2d2" stroke-width=".5"/><ellipse cx="879.77" cy="255.5" rx="6.02" ry="1.1" fill="#b4b4b4"/><path d="M875.32,220.3 L882.85,216.73" stroke="#0d8add" stroke-width="2.6" stroke-linecap="round"/><g transform="translate(841.4,259.6) scale(1,1)"><use href="#floorPanel"/></g></g>
<g><g transform="translate(1041.4,258.7) scale(1,1)"><use href="#floorBody"/></g><ellipse cx="1076.6" cy="260.4" rx="21.24" ry="3.4" fill="#262626"/><ellipse cx="1076.6" cy="259.5" rx="19.75" ry="2.55" fill="#bdbdbd"/><path d="M1058.9,201.76 L1058.9,257.8 A17.7,3.36 0 0 0 1094.3,257.8 L1094.3,201.76 A17.7,3.36 0 0 0 1058.9,201.76 Z" fill="url(#gGlass2)" stroke="#bcbcbc" stroke-width=".8"/><ellipse cx="1076.6" cy="201.76" rx="17.7" ry="3.36" fill="#f4f4f4" stroke="#c2c2c2" stroke-width=".7"/><rect x="1061.69" y="215.02" width="1.5" height="38.28" fill="#e4e4e4" stroke="#a6a6a6" stroke-width=".45"/><rect x="1065.09" y="215.02" width="1.5" height="38.28" fill="#e4e4e4" stroke="#a6a6a6" stroke-width=".45"/><rect x="1086.61" y="215.02" width="1.5" height="38.28" fill="#e4e4e4" stroke="#a6a6a6" stroke-width=".45"/><rect x="1090.01" y="215.02" width="1.5" height="38.28" fill="#e4e4e4" stroke="#a6a6a6" stroke-width=".45"/><rect x="1060.84" y="216.52" width="31.52" height="1.8" fill="#d9d9d9" stroke="#8f8f8f" stroke-width=".5"/><rect x="1061.44" y="214.12" width="2" height="2" fill="#777"/><rect x="1089.76" y="214.12" width="2" height="2" fill="#777"/><path d="M1058.9,224.37 H1094.3" stroke="#c8c8c8" stroke-width=".5"/><ellipse cx="1076.6" cy="233.73" rx="14.51" ry="2.3" fill="#f0f0f0" stroke="#a2a2a2" stroke-width=".6"/><path d="M1060.84,235.63 H1092.36" stroke="#7d7d7d" stroke-width="1.1"/><ellipse cx="1076.6" cy="244.61" rx="14.51" ry="2.3" fill="#f0f0f0" stroke="#a2a2a2" stroke-width=".6"/><path d="M1060.84,246.51 H1092.36" stroke="#7d7d7d" stroke-width="1.1"/><ellipse cx="1076.6" cy="253.06" rx="14.51" ry="2.3" fill="#f0f0f0" stroke="#a2a2a2" stroke-width=".6"/><path d="M1060.84,254.96 H1092.36" stroke="#7d7d7d" stroke-width="1.1"/><path d="M1076.6,200.4 V223.16" stroke="#9a9a9a" stroke-width="1.7"/><path d="M1073.1,201 h7 l-2.2,2.4 h-2.6 Z" fill="#8e8e8e"/><path d="M1073.1,223.47 h7" stroke="#8a8a8a" stroke-width="1.4"/><path d="M1074.1,210.48 h5" stroke="#9a9a9a" stroke-width="1"/><rect x="1073.4" y="187.8" width="6.4" height="11" fill="url(#gMetal)" stroke="#8a8a8a" stroke-width=".5"/><path d="M1060.1,189.8 L1093.1,192.5" stroke="#5a5a5a" stroke-width="1.2"/><circle cx="1059.9" cy="189.8" r="2.1" fill="#111"/><circle cx="1093.3" cy="192.6" r="2.1" fill="#111"/><g transform="translate(1041.4,258.7) scale(1,1)"><use href="#floorPanel"/></g></g>
<g><g transform="translate(738.9,604.3) scale(1,1.01)"><use href="#floorBody"/></g><ellipse cx="775.8" cy="607.8" rx="19.68" ry="3.15" fill="#262626"/><ellipse cx="775.8" cy="606.9" rx="18.3" ry="2.36" fill="#bdbdbd"/><path d="M759.4,551.52 L759.4,605.2 A16.4,3.12 0 0 0 792.2,605.2 L792.2,551.52 A16.4,3.12 0 0 0 759.4,551.52 Z" fill="url(#gGlass)" stroke="#bcbcbc" stroke-width=".8"/><ellipse cx="775.8" cy="551.52" rx="16.4" ry="3.12" fill="#f4f4f4" stroke="#c2c2c2" stroke-width=".7"/><rect x="774.3" y="564.58" width="3" height="40.46" fill="#efefef" stroke="#d2d2d2" stroke-width=".4"/><ellipse cx="775.8" cy="574.41" rx="14.43" ry="2.3" fill="#fdfdfd" stroke="#d2d2d2" stroke-width=".5"/><ellipse cx="775.8" cy="574.41" rx="5.77" ry="1.1" fill="#b4b4b4"/><ellipse cx="775.8" cy="584.24" rx="14.43" ry="2.3" fill="#fdfdfd" stroke="#d2d2d2" stroke-width=".5"/><ellipse cx="775.8" cy="584.24" rx="5.77" ry="1.1" fill="#b4b4b4"/><ellipse cx="775.8" cy="593.48" rx="14.43" ry="2.3" fill="#fdfdfd" stroke="#d2d2d2" stroke-width=".5"/><ellipse cx="775.8" cy="593.48" rx="5.77" ry="1.1" fill="#b4b4b4"/><ellipse cx="775.8" cy="602.15" rx="14.43" ry="2.3" fill="#fdfdfd" stroke="#d2d2d2" stroke-width=".5"/><ellipse cx="775.8" cy="602.15" rx="5.77" ry="1.1" fill="#b4b4b4"/><rect x="760.06" y="562.85" width="30.18" height="3.5" rx="1.2" fill="#0d8add"/><g transform="translate(768.92,554.42) rotate(22)"><circle cx="0" cy="15.82" r="5.16" fill="url(#gFlask)" stroke="#c4c4c4" stroke-width=".7"/><path d="M-1.29,5.59 V6.88 Q-1.29,8.17 -3.2,11.95 L3.2,11.95 Q1.29,8.17 1.29,6.88 V5.59 Z" fill="#f7f7f7" stroke="#c4c4c4" stroke-width=".6"/><ellipse cx="-1.29" cy="15.31" rx="2.32" ry="2.84" fill="#fff" opacity=".9"/><rect x="-1.29" y="2.71" width="2.58" height="2.84" fill="#cfcfcf" stroke="#6e6e6e" stroke-width=".4"/><rect x="-1.72" y="-0.86" width="3.44" height="3.87" rx=".6" fill="#141414"/></g><rect x="764.02" y="549.52" width="9.03" height="6.36" rx="0.95" fill="#141414"/><circle cx="763.5" cy="552.36" r="1.46" fill="#f5f5f5" stroke="#141414" stroke-width="0.77"/><g transform="translate(782.68,555.28) rotate(-37)"><circle cx="0" cy="18.92" r="5.42" fill="url(#gFlask)" stroke="#c4c4c4" stroke-width=".7"/><path d="M-1.29,9.03 V10.32 Q-1.29,11.61 -3.36,14.86 L3.36,14.86 Q1.29,11.61 1.29,10.32 V9.03 Z" fill="#f7f7f7" stroke="#c4c4c4" stroke-width=".6"/><ellipse cx="-1.35" cy="18.38" rx="2.44" ry="2.98" fill="#fff" opacity=".9"/><rect x="-1.29" y="6.15" width="2.58" height="2.84" fill="#cfcfcf" stroke="#6e6e6e" stroke-width=".4"/><rect x="-1.72" y="-0.86" width="3.44" height="7.31" rx=".6" fill="#141414"/></g><rect x="780.62" y="549.52" width="10.58" height="6.36" rx="0.95" fill="#141414"/><circle cx="791.71" cy="552.36" r="1.46" fill="#f5f5f5" stroke="#141414" stroke-width="0.77"/><g transform="translate(750,555.71) rotate(17)"><circle cx="0" cy="16.86" r="6.02" fill="url(#gFlask)" stroke="#c4c4c4" stroke-width=".7"/><path d="M-1.29,7.31 V8.6 Q-1.29,9.89 -3.73,12.34 L3.73,12.34 Q1.29,9.89 1.29,8.6 V7.31 Z" fill="#f7f7f7" stroke="#c4c4c4" stroke-width=".6"/><ellipse cx="-1.5" cy="16.25" rx="2.71" ry="3.31" fill="#fff" opacity=".9"/><rect x="-1.29" y="4.43" width="2.58" height="2.84" fill="#cfcfcf" stroke="#6e6e6e" stroke-width=".4"/><rect x="-1.72" y="-0.86" width="3.44" height="5.59" rx=".6" fill="#141414"/></g><rect x="748.62" y="552.1" width="13.76" height="4.13" rx="0.95" fill="#141414"/><circle cx="748.11" cy="553.82" r="1.46" fill="#f5f5f5" stroke="#141414" stroke-width="0.77"/><g transform="translate(798.16,556.14) rotate(-36)"><circle cx="0" cy="19.61" r="6.45" fill="url(#gFlask)" stroke="#c4c4c4" stroke-width=".7"/><path d="M-1.29,8.6 V9.89 Q-1.29,11.18 -4,14.77 L4,14.77 Q1.29,11.18 1.29,9.89 V8.6 Z" fill="#f7f7f7" stroke="#c4c4c4" stroke-width=".6"/><ellipse cx="-1.61" cy="18.96" rx="2.9" ry="3.55" fill="#fff" opacity=".9"/><rect x="-1.29" y="5.72" width="2.58" height="2.84" fill="#cfcfcf" stroke="#6e6e6e" stroke-width=".4"/><rect x="-1.72" y="-0.86" width="3.44" height="6.88" rx=".6" fill="#141414"/></g><rect x="792.48" y="552.18" width="13.93" height="4.3" rx="0.95" fill="#141414"/><circle cx="806.93" cy="553.99" r="1.46" fill="#f5f5f5" stroke="#141414" stroke-width="0.77"/><g transform="translate(738.9,604.3) scale(1,1.01)"><use href="#floorPanel"/></g></g>
<g><g transform="translate(942,604.7) scale(1.01,1)"><use href="#floorBody"/></g><ellipse cx="977.5" cy="608.9" rx="21.42" ry="3.43" fill="#262626"/><ellipse cx="977.5" cy="608" rx="19.92" ry="2.57" fill="#bdbdbd"/><path d="M960.65,540.89 L960.65,605.3 A17.85,3.39 0 0 0 996.35,605.3 L996.35,540.89 A17.85,3.39 0 0 0 960.65,540.89 Z" fill="url(#gGlass)" stroke="#bcbcbc" stroke-width=".8"/><ellipse cx="978.5" cy="540.89" rx="17.85" ry="3.39" fill="#f4f4f4" stroke="#c2c2c2" stroke-width=".7"/><path d="M963.51,565.02 V603.3 M993.49,565.02 V603.3 M989.21,544.38 V603.3" stroke="#bcbcbc" stroke-width=".9" fill="none"/><ellipse cx="978.5" cy="574.04" rx="16.42" ry="2.8" fill="#d9d9d9" stroke="#9a9a9a" stroke-width=".6"/><path d="M962.79,576.04 H994.21" stroke="#8c8c8c" stroke-width="1"/><rect x="966.94" y="569.24" width="1.7" height="3.2" fill="#fff" stroke="#444" stroke-width=".5"/><rect x="970.51" y="569.24" width="1.7" height="3.2" fill="#fff" stroke="#444" stroke-width=".5"/><rect x="974.08" y="569.24" width="1.7" height="3.2" fill="#fff" stroke="#444" stroke-width=".5"/><rect x="977.65" y="569.24" width="1.7" height="3.2" fill="#fff" stroke="#444" stroke-width=".5"/><rect x="981.22" y="569.24" width="1.7" height="3.2" fill="#fff" stroke="#444" stroke-width=".5"/><rect x="984.79" y="569.24" width="1.7" height="3.2" fill="#fff" stroke="#444" stroke-width=".5"/><rect x="988.36" y="569.24" width="1.7" height="3.2" fill="#fff" stroke="#444" stroke-width=".5"/><ellipse cx="978.5" cy="586.08" rx="16.42" ry="2.8" fill="#d9d9d9" stroke="#9a9a9a" stroke-width=".6"/><path d="M962.79,588.08 H994.21" stroke="#8c8c8c" stroke-width="1"/><rect x="966.94" y="581.28" width="1.7" height="3.2" fill="#fff" stroke="#444" stroke-width=".5"/><rect x="970.51" y="581.28" width="1.7" height="3.2" fill="#fff" stroke="#444" stroke-width=".5"/><rect x="974.08" y="581.28" width="1.7" height="3.2" fill="#fff" stroke="#444" stroke-width=".5"/><rect x="977.65" y="581.28" width="1.7" height="3.2" fill="#fff" stroke="#444" stroke-width=".5"/><rect x="981.22" y="581.28" width="1.7" height="3.2" fill="#fff" stroke="#444" stroke-width=".5"/><rect x="984.79" y="581.28" width="1.7" height="3.2" fill="#fff" stroke="#444" stroke-width=".5"/><rect x="988.36" y="581.28" width="1.7" height="3.2" fill="#fff" stroke="#444" stroke-width=".5"/><ellipse cx="978.5" cy="598.12" rx="16.42" ry="2.8" fill="#d9d9d9" stroke="#9a9a9a" stroke-width=".6"/><path d="M962.79,600.12 H994.21" stroke="#8c8c8c" stroke-width="1"/><rect x="966.94" y="593.32" width="1.7" height="3.2" fill="#fff" stroke="#444" stroke-width=".5"/><rect x="970.51" y="593.32" width="1.7" height="3.2" fill="#fff" stroke="#444" stroke-width=".5"/><rect x="974.08" y="593.32" width="1.7" height="3.2" fill="#fff" stroke="#444" stroke-width=".5"/><rect x="977.65" y="593.32" width="1.7" height="3.2" fill="#fff" stroke="#444" stroke-width=".5"/><rect x="981.22" y="593.32" width="1.7" height="3.2" fill="#fff" stroke="#444" stroke-width=".5"/><rect x="984.79" y="593.32" width="1.7" height="3.2" fill="#fff" stroke="#444" stroke-width=".5"/><rect x="988.36" y="593.32" width="1.7" height="3.2" fill="#fff" stroke="#444" stroke-width=".5"/><ellipse cx="978.5" cy="562.27" rx="16.78" ry="2.2" fill="#f1f1f1" stroke="#b5b5b5" stroke-width=".6"/><g transform="translate(983.52,540.29) rotate(-5)"><circle cx="0" cy="13.76" r="5.12" fill="url(#gFlask)" stroke="#c4c4c4" stroke-width=".7"/><path d="M-1.4,4.65 V6.04 Q-1.4,7.44 -3.17,9.93 L3.17,9.93 Q1.4,7.44 1.4,6.04 V4.65 Z" fill="#f7f7f7" stroke="#c4c4c4" stroke-width=".6"/><ellipse cx="-1.28" cy="13.25" rx="2.3" ry="2.81" fill="#fff" opacity=".9"/><rect x="-1.4" y="1.56" width="2.79" height="3.07" fill="#cfcfcf" stroke="#6e6e6e" stroke-width=".4"/><rect x="-1.86" y="-0.93" width="3.72" height="2.79" rx=".6" fill="#141414"/></g><rect x="976.08" y="531.92" width="4.65" height="13.95" fill="url(#gMetal)" stroke="#9a9a9a" stroke-width=".4"/><path d="M971.06,537.03 L987.34,531.92" stroke="#555" stroke-width="1"/><circle cx="987.43" cy="531.55" r="1.77" fill="#111"/><circle cx="971.52" cy="537.03" r="1.4" fill="#111"/><circle cx="984.08" cy="537.31" r="1.58" fill="#f5f5f5" stroke="#141414" stroke-width=".9"/><g transform="translate(962.88,542.15) rotate(19)"><circle cx="0" cy="17.58" r="5.21" fill="url(#gFlask)" stroke="#c4c4c4" stroke-width=".7"/><path d="M-1.4,8.84 V10.23 Q-1.4,11.62 -3.23,13.67 L3.23,13.67 Q1.4,11.62 1.4,10.23 V8.84 Z" fill="#f7f7f7" stroke="#c4c4c4" stroke-width=".6"/><ellipse cx="-1.3" cy="17.06" rx="2.34" ry="2.86" fill="#fff" opacity=".9"/><rect x="-1.4" y="5.75" width="2.79" height="3.07" fill="#cfcfcf" stroke="#6e6e6e" stroke-width=".4"/><rect x="-1.86" y="-0.93" width="3.72" height="6.97" rx=".6" fill="#141414"/></g><rect x="960.37" y="538.01" width="9.58" height="4.56" rx="1.02" fill="#141414"/><circle cx="959.81" cy="539.92" r="1.58" fill="#f5f5f5" stroke="#141414" stroke-width="0.84"/><g transform="translate(953.3,543.36) rotate(25.5)"><circle cx="0" cy="16.55" r="5.86" fill="url(#gFlask)" stroke="#c4c4c4" stroke-width=".7"/><path d="M-1.4,8.37 V9.77 Q-1.4,11.16 -3.63,12.16 L3.63,12.16 Q1.4,11.16 1.4,9.77 V8.37 Z" fill="#f7f7f7" stroke="#c4c4c4" stroke-width=".6"/><ellipse cx="-1.46" cy="15.97" rx="2.64" ry="3.22" fill="#fff" opacity=".9"/><rect x="-1.4" y="5.28" width="2.79" height="3.07" fill="#cfcfcf" stroke="#6e6e6e" stroke-width=".4"/><rect x="-1.86" y="-0.93" width="3.72" height="6.51" rx=".6" fill="#141414"/></g><rect x="950.13" y="539.82" width="8.93" height="4.09" rx="1.02" fill="#141414"/><circle cx="949.58" cy="541.5" r="1.58" fill="#f5f5f5" stroke="#141414" stroke-width="0.84"/><g transform="translate(994.31,544.01) rotate(-8)"><circle cx="0" cy="17.67" r="4.46" fill="url(#gFlask)" stroke="#c4c4c4" stroke-width=".7"/><path d="M-1.4,7.44 V8.84 Q-1.4,10.23 -2.77,14.32 L2.77,14.32 Q1.4,10.23 1.4,8.84 V7.44 Z" fill="#f7f7f7" stroke="#c4c4c4" stroke-width=".6"/><ellipse cx="-1.12" cy="17.22" rx="2.01" ry="2.46" fill="#fff" opacity=".9"/><rect x="-1.4" y="4.35" width="2.79" height="3.07" fill="#cfcfcf" stroke="#6e6e6e" stroke-width=".4"/><rect x="-1.86" y="-0.93" width="3.72" height="5.58" rx=".6" fill="#141414"/></g><g transform="translate(1001.94,544.01) rotate(-23.5)"><circle cx="0" cy="17.48" r="6.42" fill="url(#gFlask)" stroke="#c4c4c4" stroke-width=".7"/><path d="M-1.4,9.77 V11.16 Q-1.4,12.55 -3.98,12.67 L3.98,12.67 Q1.4,12.55 1.4,11.16 V9.77 Z" fill="#f7f7f7" stroke="#c4c4c4" stroke-width=".6"/><ellipse cx="-1.6" cy="16.84" rx="2.89" ry="3.53" fill="#fff" opacity=".9"/><rect x="-1.4" y="6.68" width="2.79" height="3.07" fill="#cfcfcf" stroke="#6e6e6e" stroke-width=".4"/><rect x="-1.86" y="-0.93" width="3.72" height="7.91" rx=".6" fill="#141414"/></g><rect x="992.36" y="539.92" width="9.58" height="4.46" rx="1.02" fill="#141414"/><circle cx="1002.49" cy="541.78" r="1.58" fill="#f5f5f5" stroke="#141414" stroke-width="0.84"/><rect x="1000.63" y="538.8" width="6.88" height="6.14" rx="1.02" fill="#141414"/><circle cx="1008.07" cy="541.5" r="1.58" fill="#f5f5f5" stroke="#141414" stroke-width="0.84"/><g transform="translate(942,604.7) scale(1.01,1)"><use href="#floorPanel"/></g></g>
<g><g transform="translate(1144.4,603.5) scale(1,1.01)"><use href="#floorBody"/></g><ellipse cx="1180.1" cy="606.7" rx="22" ry="4.4" fill="#0d8add"/><rect x="1158.1" y="603.5" width="44" height="3.4" fill="#0d8add"/><ellipse cx="1180.1" cy="603.5" rx="22" ry="3.74" fill="url(#gPlate)" stroke="#b8b8b8" stroke-width=".5"/><g transform="translate(1147.5,541.2)"><path d="M-1.3,-12.82 L-1.3,-10.12 Q-1.3,-7.09 -5.4,-4.05 A6.75,6.75 0 1 0 5.4,-4.05 Q1.3,-7.09 1.3,-10.12 L1.3,-12.82 Z" fill="#fafafa" stroke="#dadada" stroke-width="0.6"/><path d="M-4.86,0.68 A5.06,5.06 0 0 0 0.68,5" fill="none" stroke="#d2d2d2" stroke-width=".6"/></g><g transform="translate(1166.4,541.2)"><path d="M-1.3,-12.82 L-1.3,-10.12 Q-1.3,-7.09 -5.4,-4.05 A6.75,6.75 0 1 0 5.4,-4.05 Q1.3,-7.09 1.3,-10.12 L1.3,-12.82 Z" fill="#fafafa" stroke="#dadada" stroke-width="0.6"/><path d="M-4.86,0.68 A5.06,5.06 0 0 0 0.68,5" fill="none" stroke="#d2d2d2" stroke-width=".6"/></g><g transform="translate(1195.8,541.2)"><path d="M-1.3,-12.82 L-1.3,-10.12 Q-1.3,-7.09 -5.4,-4.05 A6.75,6.75 0 1 0 5.4,-4.05 Q1.3,-7.09 1.3,-10.12 L1.3,-12.82 Z" fill="#fafafa" stroke="#dadada" stroke-width="0.6"/><path d="M-4.86,0.68 A5.06,5.06 0 0 0 0.68,5" fill="none" stroke="#d2d2d2" stroke-width=".6"/></g><g transform="translate(1211.8,541.2)"><path d="M-1.3,-12.82 L-1.3,-10.12 Q-1.3,-7.09 -5.4,-4.05 A6.75,6.75 0 1 0 5.4,-4.05 Q1.3,-7.09 1.3,-10.12 L1.3,-12.82 Z" fill="#fafafa" stroke="#dadada" stroke-width="0.6"/><path d="M-4.86,0.68 A5.06,5.06 0 0 0 0.68,5" fill="none" stroke="#d2d2d2" stroke-width=".6"/></g><g transform="translate(1147.5,574.2)"><path d="M-1.3,-12.82 L-1.3,-10.12 Q-1.3,-7.09 -5.4,-4.05 A6.75,6.75 0 1 0 5.4,-4.05 Q1.3,-7.09 1.3,-10.12 L1.3,-12.82 Z" fill="#fafafa" stroke="#dadada" stroke-width="0.6"/><path d="M-4.86,0.68 A5.06,5.06 0 0 0 0.68,5" fill="none" stroke="#d2d2d2" stroke-width=".6"/></g><g transform="translate(1166.4,574.2)"><path d="M-1.3,-12.82 L-1.3,-10.12 Q-1.3,-7.09 -5.4,-4.05 A6.75,6.75 0 1 0 5.4,-4.05 Q1.3,-7.09 1.3,-10.12 L1.3,-12.82 Z" fill="#fafafa" stroke="#dadada" stroke-width="0.6"/><path d="M-4.86,0.68 A5.06,5.06 0 0 0 0.68,5" fill="none" stroke="#d2d2d2" stroke-width=".6"/></g><g transform="translate(1195.8,574.2)"><path d="M-1.3,-12.82 L-1.3,-10.12 Q-1.3,-7.09 -5.4,-4.05 A6.75,6.75 0 1 0 5.4,-4.05 Q1.3,-7.09 1.3,-10.12 L1.3,-12.82 Z" fill="#fafafa" stroke="#dadada" stroke-width="0.6"/><path d="M-4.86,0.68 A5.06,5.06 0 0 0 0.68,5" fill="none" stroke="#d2d2d2" stroke-width=".6"/></g><g transform="translate(1207,574.2)"><path d="M-1.3,-12.82 L-1.3,-10.12 Q-1.3,-7.09 -5.4,-4.05 A6.75,6.75 0 1 0 5.4,-4.05 Q1.3,-7.09 1.3,-10.12 L1.3,-12.82 Z" fill="#fafafa" stroke="#dadada" stroke-width="0.6"/><path d="M-4.86,0.68 A5.06,5.06 0 0 0 0.68,5" fill="none" stroke="#d2d2d2" stroke-width=".6"/></g><rect x="1148.8" y="520.4" width="64.7" height="3.6" fill="url(#gArm)" stroke="#b5b5b5" stroke-width=".3"/><rect x="1148.8" y="551" width="64.7" height="3.6" fill="url(#gArm)" stroke="#b5b5b5" stroke-width=".3"/><rect x="1177.5" y="518" width="5.2" height="85.5" fill="url(#gPost)" stroke="#b0b0b0" stroke-width=".3"/><g transform="translate(1143,540.2)"><path d="M-1.3,-13.68 L-1.3,-10.8 Q-1.3,-7.56 -5.76,-4.32 A7.2,7.2 0 1 0 5.76,-4.32 Q1.3,-7.56 1.3,-10.8 L1.3,-13.68 Z" fill="url(#gFlask)" stroke="#bdbdbd" stroke-width="0.7"/><path d="M-5.18,0.72 A5.4,5.4 0 0 0 0.72,5.33" fill="none" stroke="#d2d2d2" stroke-width=".6"/></g><path d="M1144.3,516.1 l2,-1.8 h2 l2,1.8 v11.7 l-1.2,5.85 h-3.6 l-1.2,-5.85 Z" fill="#161616"/><circle cx="1147.3" cy="516.7" r="1.2" fill="#e8e8e8"/><rect x="1145.6" y="524.05" width="3.4" height="1.4" fill="#d9826a"/><rect x="1145.8" y="527.56" width="3" height="5.85" fill="#bdbdbd" stroke="#555" stroke-width=".4"/><rect x="1149.9" y="521.12" width="3.6" height="8.78" fill="#1c1c1c"/><g transform="translate(1168.9,540.2)"><path d="M-1.3,-13.68 L-1.3,-10.8 Q-1.3,-7.56 -5.76,-4.32 A7.2,7.2 0 1 0 5.76,-4.32 Q1.3,-7.56 1.3,-10.8 L1.3,-13.68 Z" fill="url(#gFlask)" stroke="#bdbdbd" stroke-width="0.7"/><path d="M-5.18,0.72 A5.4,5.4 0 0 0 0.72,5.33" fill="none" stroke="#d2d2d2" stroke-width=".6"/></g><path d="M1168.2,516.1 l2,-1.8 h2 l2,1.8 v11.7 l-1.2,5.85 h-3.6 l-1.2,-5.85 Z" fill="#161616"/><circle cx="1171.2" cy="516.7" r="1.2" fill="#e8e8e8"/><rect x="1169.5" y="524.05" width="3.4" height="1.4" fill="#d9826a"/><rect x="1169.7" y="527.56" width="3" height="5.85" fill="#bdbdbd" stroke="#555" stroke-width=".4"/><g transform="translate(1193.3,540.2)"><path d="M-1.3,-13.68 L-1.3,-10.8 Q-1.3,-7.56 -5.76,-4.32 A7.2,7.2 0 1 0 5.76,-4.32 Q1.3,-7.56 1.3,-10.8 L1.3,-13.68 Z" fill="url(#gFlask)" stroke="#bdbdbd" stroke-width="0.7"/><path d="M-5.18,0.72 A5.4,5.4 0 0 0 0.72,5.33" fill="none" stroke="#d2d2d2" stroke-width=".6"/></g><path d="M1187.5,516.1 l2,-1.8 h2 l2,1.8 v11.7 l-1.2,5.85 h-3.6 l-1.2,-5.85 Z" fill="#161616"/><circle cx="1190.5" cy="516.7" r="1.2" fill="#e8e8e8"/><rect x="1188.8" y="524.05" width="3.4" height="1.4" fill="#d9826a"/><rect x="1189" y="527.56" width="3" height="5.85" fill="#bdbdbd" stroke="#555" stroke-width=".4"/><g transform="translate(1216.3,540.2)"><path d="M-1.3,-13.68 L-1.3,-10.8 Q-1.3,-7.56 -5.76,-4.32 A7.2,7.2 0 1 0 5.76,-4.32 Q1.3,-7.56 1.3,-10.8 L1.3,-13.68 Z" fill="url(#gFlask)" stroke="#bdbdbd" stroke-width="0.7"/><path d="M-5.18,0.72 A5.4,5.4 0 0 0 0.72,5.33" fill="none" stroke="#d2d2d2" stroke-width=".6"/></g><path d="M1210.5,516.1 l2,-1.8 h2 l2,1.8 v11.7 l-1.2,5.85 h-3.6 l-1.2,-5.85 Z" fill="#161616"/><circle cx="1213.5" cy="516.7" r="1.2" fill="#e8e8e8"/><rect x="1211.8" y="524.05" width="3.4" height="1.4" fill="#d9826a"/><rect x="1212" y="527.56" width="3" height="5.85" fill="#bdbdbd" stroke="#555" stroke-width=".4"/><rect x="1207.3" y="521.12" width="3.6" height="8.78" fill="#1c1c1c"/><g transform="translate(1143,573.2)"><path d="M-1.3,-13.68 L-1.3,-10.8 Q-1.3,-7.56 -5.76,-4.32 A7.2,7.2 0 1 0 5.76,-4.32 Q1.3,-7.56 1.3,-10.8 L1.3,-13.68 Z" fill="url(#gFlask)" stroke="#bdbdbd" stroke-width="0.7"/><path d="M-5.18,0.72 A5.4,5.4 0 0 0 0.72,5.33" fill="none" stroke="#d2d2d2" stroke-width=".6"/></g><path d="M1144.3,548.8 l2,-1.8 h2 l2,1.8 v11.7 l-1.2,5.85 h-3.6 l-1.2,-5.85 Z" fill="#161616"/><circle cx="1147.3" cy="549.4" r="1.2" fill="#e8e8e8"/><rect x="1145.6" y="556.75" width="3.4" height="1.4" fill="#d9826a"/><rect x="1145.8" y="560.26" width="3" height="5.85" fill="#bdbdbd" stroke="#555" stroke-width=".4"/><rect x="1149.9" y="553.83" width="3.6" height="8.78" fill="#1c1c1c"/><g transform="translate(1168.9,573.2)"><path d="M-1.3,-13.68 L-1.3,-10.8 Q-1.3,-7.56 -5.76,-4.32 A7.2,7.2 0 1 0 5.76,-4.32 Q1.3,-7.56 1.3,-10.8 L1.3,-13.68 Z" fill="url(#gFlask)" stroke="#bdbdbd" stroke-width="0.7"/><path d="M-5.18,0.72 A5.4,5.4 0 0 0 0.72,5.33" fill="none" stroke="#d2d2d2" stroke-width=".6"/></g><path d="M1168.2,548.8 l2,-1.8 h2 l2,1.8 v11.7 l-1.2,5.85 h-3.6 l-1.2,-5.85 Z" fill="#161616"/><circle cx="1171.2" cy="549.4" r="1.2" fill="#e8e8e8"/><rect x="1169.5" y="556.75" width="3.4" height="1.4" fill="#d9826a"/><rect x="1169.7" y="560.26" width="3" height="5.85" fill="#bdbdbd" stroke="#555" stroke-width=".4"/><g transform="translate(1193.3,573.2)"><path d="M-1.3,-13.68 L-1.3,-10.8 Q-1.3,-7.56 -5.76,-4.32 A7.2,7.2 0 1 0 5.76,-4.32 Q1.3,-7.56 1.3,-10.8 L1.3,-13.68 Z" fill="url(#gFlask)" stroke="#bdbdbd" stroke-width="0.7"/><path d="M-5.18,0.72 A5.4,5.4 0 0 0 0.72,5.33" fill="none" stroke="#d2d2d2" stroke-width=".6"/></g><path d="M1187.5,548.8 l2,-1.8 h2 l2,1.8 v11.7 l-1.2,5.85 h-3.6 l-1.2,-5.85 Z" fill="#161616"/><circle cx="1190.5" cy="549.4" r="1.2" fill="#e8e8e8"/><rect x="1188.8" y="556.75" width="3.4" height="1.4" fill="#d9826a"/><rect x="1189" y="560.26" width="3" height="5.85" fill="#bdbdbd" stroke="#555" stroke-width=".4"/><g transform="translate(1211.5,573.2)"><path d="M-1.3,-13.68 L-1.3,-10.8 Q-1.3,-7.56 -5.76,-4.32 A7.2,7.2 0 1 0 5.76,-4.32 Q1.3,-7.56 1.3,-10.8 L1.3,-13.68 Z" fill="url(#gFlask)" stroke="#bdbdbd" stroke-width="0.7"/><path d="M-5.18,0.72 A5.4,5.4 0 0 0 0.72,5.33" fill="none" stroke="#d2d2d2" stroke-width=".6"/></g><path d="M1210.5,548.8 l2,-1.8 h2 l2,1.8 v11.7 l-1.2,5.85 h-3.6 l-1.2,-5.85 Z" fill="#161616"/><circle cx="1213.5" cy="549.4" r="1.2" fill="#e8e8e8"/><rect x="1211.8" y="556.75" width="3.4" height="1.4" fill="#d9826a"/><rect x="1212" y="560.26" width="3" height="5.85" fill="#bdbdbd" stroke="#555" stroke-width=".4"/><rect x="1207.3" y="553.83" width="3.6" height="8.78" fill="#1c1c1c"/><g transform="translate(1144.4,603.5) scale(1,1.01)"><use href="#floorPanel"/></g></g>
</svg>
<div class="card" style="left:147.2px;top:129.8px;width:197.3px;height:303px">
<i class="dot" style="left:17.7px;top:24.5px"></i>
<h3 class="label" style="left:31.7px;top:18.61px;font-size:18px;line-height:26px;"><span class="n" style="font-size:18.9px">0.12</span>㎡冻干面积</h3>
<p class="model" style="left:96.2px;width:300px;margin-left:-150px;text-align:center;top:258.54px;font-size:12px;line-height:16px;">HXLG-10-50B</p>
<p class="name" style="left:96.1px;width:300px;margin-left:-150px;text-align:center;top:272.8px;font-size:12.4px;line-height:16px;">标准型台式冻干机</p>
</div>
<div class="card" style="left:355.2px;top:129.8px;width:197.3px;height:303px">
<i class="dot" style="left:16.1px;top:24.5px"></i>
<h3 class="label" style="left:30.2px;top:18.61px;font-size:18px;line-height:26px;"><span class="n" style="font-size:18.9px">0.08</span>㎡冻干面积</h3>
<p class="model" style="left:98.7px;width:300px;margin-left:-150px;text-align:center;top:260.34px;font-size:12px;line-height:16px;">HXLG-10-50G</p>
<p class="name" style="left:98.4px;width:300px;margin-left:-150px;text-align:center;top:273.7px;font-size:12.4px;line-height:16px;">手动压盖型台式冻干机</p>
</div>
<div class="card" style="left:43px;top:482.3px;width:197.3px;height:303.2px">
<i class="dot" style="left:11.9px;top:21.1px"></i>
<h3 class="label" style="left:25.9px;top:15.31px;font-size:18px;line-height:26px;"><span class="n" style="font-size:18.9px">0.12</span>㎡冻干面积</h3>
<p class="model" style="left:99.4px;width:300px;margin-left:-150px;text-align:center;top:258.74px;font-size:12px;line-height:16px;">HXLG-10-50D</p>
<p class="name" style="left:99.2px;width:300px;margin-left:-150px;text-align:center;top:271.6px;font-size:12.4px;line-height:16px;">标准多歧管型台式冻干机</p>
</div>
<div class="card" style="left:251.3px;top:482.3px;width:197.3px;height:303.2px">
<i class="dot" style="left:13.6px;top:21.1px"></i>
<h3 class="label" style="left:27.6px;top:15.31px;font-size:18px;line-height:26px;"><span class="n" style="font-size:18.9px">0.08</span>㎡冻干面积</h3>
<p class="model" style="left:98.3px;width:300px;margin-left:-150px;text-align:center;top:261.94px;font-size:12px;line-height:16px;">HXLG-10-50DG</p>
<p class="name" style="left:98.7px;width:300px;margin-left:-150px;text-align:center;top:275.5px;font-size:12.4px;line-height:16px;">多岐管压盖型台式冻干机</p>
</div>
<div class="card" style="left:458.3px;top:482.3px;width:197.3px;height:303.2px">
<i class="dot" style="left:13.9px;top:21.1px"></i>
<h3 class="label" style="left:28.9px;top:13.81px;font-size:18px;line-height:26px;"><span class="n" style="font-size:18.9px">16</span>个茄形瓶</h3>
<p class="model" style="left:97.8px;width:300px;margin-left:-150px;text-align:center;top:260.84px;font-size:12px;line-height:16px;">HXLG-10-50T</p>
<p class="name" style="left:98.9px;width:300px;margin-left:-150px;text-align:center;top:274.6px;font-size:12.4px;line-height:16px;">T型16口台式冻干机</p>
</div>
<div class="card" style="left:788.3px;top:139px;width:191.3px;height:293.8px">
<i class="dot" style="left:17px;top:23.3px"></i>
<h3 class="label" style="left:30.7px;top:17.6px;font-size:17.45px;line-height:26px;"><span class="n" style="font-size:18.32px">0.12</span>㎡冻干面积</h3>
<p class="model" style="left:95.9px;width:300px;margin-left:-150px;text-align:center;top:250.17px;font-size:11.92px;line-height:16px;">HXLG-12-50/80B</p>
<p class="name" style="left:95.8px;width:300px;margin-left:-150px;text-align:center;top:263.72px;font-size:12.05px;line-height:16px;">标准型立式冻干机</p>
</div>
<div class="card" style="left:990px;top:139px;width:191.5px;height:293.8px">
<i class="dot" style="left:15.4px;top:23.3px"></i>
<h3 class="label" style="left:29px;top:17.6px;font-size:17.45px;line-height:26px;"><span class="n" style="font-size:18.32px">0.08</span>㎡冻干面积</h3>
<p class="model" style="left:104.9px;width:300px;margin-left:-150px;text-align:center;top:252.07px;font-size:11.92px;line-height:16px;">HXLG-12-50/80G</p>
<p class="name" style="left:95.3px;width:300px;margin-left:-150px;text-align:center;top:265.62px;font-size:12.05px;line-height:16px;">手动压盖型立式冻干机</p>
</div>
<div class="card" style="left:687.5px;top:481px;width:191.3px;height:293.8px">
<i class="dot" style="left:11.1px;top:20.1px"></i>
<h3 class="label" style="left:24.9px;top:14.3px;font-size:17.45px;line-height:26px;"><span class="n" style="font-size:18.32px">0.12</span>㎡冻干面积</h3>
<p class="model" style="left:95.5px;width:300px;margin-left:-150px;text-align:center;top:250.07px;font-size:11.92px;line-height:16px;">HXLG-12-50/80D</p>
<p class="name" style="left:95.3px;width:300px;margin-left:-150px;text-align:center;top:263.32px;font-size:12.05px;line-height:16px;">标准多歧管型立式冻干机</p>
</div>
<div class="card" style="left:889.3px;top:481px;width:191.3px;height:293.8px">
<i class="dot" style="left:12.9px;top:20.4px"></i>
<h3 class="label" style="left:26.4px;top:14.3px;font-size:17.45px;line-height:26px;"><span class="n" style="font-size:18.32px">0.08</span>㎡冻干面积</h3>
<p class="model" style="left:95.4px;width:300px;margin-left:-150px;text-align:center;top:253.57px;font-size:11.92px;line-height:16px;">HXLG-12-50/80DG</p>
<p class="name" style="left:94.7px;width:300px;margin-left:-150px;text-align:center;top:267.22px;font-size:12.05px;line-height:16px;">多岐管压盖型立式冻干机</p>
</div>
<div class="card" style="left:1090px;top:481px;width:191.3px;height:293.8px">
<i class="dot" style="left:13.1px;top:17.6px"></i>
<h3 class="label" style="left:28.4px;top:10.6px;font-size:17.45px;line-height:26px;"><span class="n" style="font-size:18.32px">16</span>个茄形瓶</h3>
<p class="model" style="left:95.3px;width:300px;margin-left:-150px;text-align:center;top:253.27px;font-size:11.92px;line-height:16px;">HXLG-12-50/80T</p>
<p class="name" style="left:95.7px;width:300px;margin-left:-150px;text-align:center;top:266.52px;font-size:12.05px;line-height:16px;">T型16口立式冻干机</p>
</div>
</div>
</body>
</html>
